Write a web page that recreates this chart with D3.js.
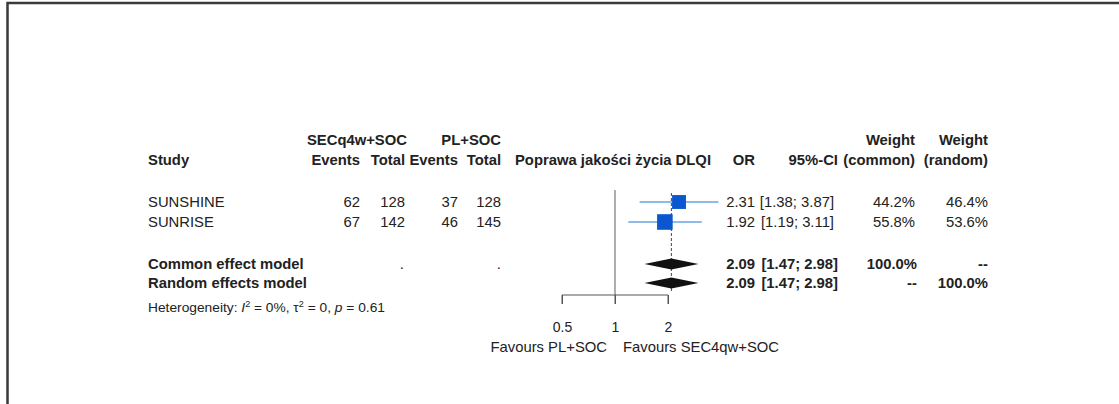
<!DOCTYPE html>
<html>
<head>
<meta charset="utf-8">
<script src="https://cdn.jsdelivr.net/npm/d3@7"></script>
<style>
  body { margin: 0; background: #fff; }
  svg text { font-family: "Liberation Sans", Arial, sans-serif; fill: #222; }
</style>
</head>
<body>
<div class="forest"></div>
<script>
// study data
const studies = ['SUNSHINE', 'SUNRISE'];
const eventsE = [62, 67];
const totalE = [128, 142];
const eventsC = [37, 46];
const totalC = [128, 145];
const orValue = [2.31, 1.92];
const ciLow = [1.38, 1.19];
const ciHigh = [3.87, 3.11];
const weightCommon = [44.2, 55.8];
const weightRandom = [46.4, 53.6];

// pooled models
const models = ['Common effect model', 'Random effects model'];
const modelOr = [2.09, 2.09];
const modelLow = [1.47, 1.47];
const modelHigh = [2.98, 2.98];
const modelWCommon = ['100.0%', '--'];
const modelWRandom = ['--', '100.0%'];

const tickValues = [0.5, 1, 2];

renderForest();

function renderForest() {
	const width = 1119;
	const height = 404;
	const svg = d3.select('.forest')
		.append('svg')
		.attr('width', width)
		.attr('height', height);

	// frame of the scanned page
	svg.append('path')
		.attr('d', 'M7.5,404 V3 H1119')
		.attr('fill', 'none')
		.attr('stroke', '#3a3a3a')
		.attr('stroke-width', 2.5);

	const x = d3.scaleLog().domain([0.5, 2]).range([562, 668]);
	const rowY = [202, 222];
	const modelY = [264, 283];
	const fs = 14;
	const stretch = 1.06; // the scan is a bit wider than tall

	function txt(xp, yp, s, anchor, bold, size) {
		return svg.append('text')
			.attr('transform', 'translate(' + xp + ',' + (yp + 5) + ') scale(' + stretch + ',1)')
			.attr('text-anchor', anchor || 'start')
			.attr('font-weight', bold ? 'bold' : 'normal')
			.attr('font-size', (size || fs) + 'px')
			.text(s);
	}

	// headers
	txt(407, 140, 'SECq4w+SOC', 'end', true);
	txt(501, 140, 'PL+SOC', 'end', true);
	txt(915, 140, 'Weight', 'end', true);
	txt(988, 140, 'Weight', 'end', true);
	txt(148, 160, 'Study', 'start', true);
	txt(360, 160, 'Events', 'end', true);
	txt(405, 160, 'Total', 'end', true);
	txt(458, 160, 'Events', 'end', true);
	txt(501, 160, 'Total', 'end', true);
	txt(613, 160, 'Poprawa jakości życia DLQI', 'middle', true);
	txt(755, 160, 'OR', 'end', true);
	txt(838, 160, '95%-CI', 'end', true);
	txt(915, 160, '(common)', 'end', true);
	txt(988, 160, '(random)', 'end', true);

	// study rows
	studies.forEach(function(s, i) {
		const y = rowY[i];
		txt(148, y, s);
		txt(360, y, eventsE[i], 'end');
		txt(405, y, totalE[i], 'end');
		txt(458, y, eventsC[i], 'end');
		txt(501, y, totalC[i], 'end');
		txt(755, y, orValue[i].toFixed(2), 'end');
		txt(834, y, '[' + ciLow[i].toFixed(2) + '; ' + ciHigh[i].toFixed(2) + ']', 'end');
		txt(915, y, weightCommon[i].toFixed(1) + '%', 'end');
		txt(988, y, weightRandom[i].toFixed(1) + '%', 'end');
	});

	// model rows
	models.forEach(function(m, i) {
		const y = modelY[i];
		txt(148, y, m, 'start', true);
		txt(755, y, modelOr[i].toFixed(2), 'end', true);
		txt(838, y, '[' + modelLow[i].toFixed(2) + '; ' + modelHigh[i].toFixed(2) + ']', 'end', true);
		txt(917, y, modelWCommon[i], 'end', true);
		txt(988, y, modelWRandom[i], 'end', true);
	});
	txt(404, modelY[0], '.', 'end').attr('fill', '#888');
	txt(501, modelY[0], '.', 'end').attr('fill', '#888');

	// heterogeneity line
	const het = svg.append('text')
		.attr('transform', 'translate(148,312) scale(' + stretch + ',1)')
		.attr('font-size', '13px');
	het.append('tspan').text('Heterogeneity: ');
	het.append('tspan').attr('font-style', 'italic').text('I');
	het.append('tspan').attr('font-size', '8.5px').attr('dy', -5).text('2');
	het.append('tspan').attr('dy', 5).text(' = 0%, τ');
	het.append('tspan').attr('font-size', '8.5px').attr('dy', -5).text('2');
	het.append('tspan').attr('dy', 5).text(' = 0, ');
	het.append('tspan').attr('font-style', 'italic').text('p');
	het.append('tspan').text(' = 0.61');

	// line of no effect
	svg.append('line')
		.attr('x1', x(1)).attr('x2', x(1))
		.attr('y1', 190).attr('y2', 304)
		.attr('stroke', '#777')
		.attr('stroke-width', 1.2);

	// dashed pooled line
	svg.append('line')
		.attr('x1', x(modelOr[0])).attr('x2', x(modelOr[0]))
		.attr('y1', 193).attr('y2', 291)
		.attr('stroke', '#444')
		.attr('stroke-width', 1)
		.attr('stroke-dasharray', '3,2');

	// confidence intervals
	svg.selectAll('.ci')
		.data(studies)
		.enter()
		.append('line')
		.attr('class', 'ci')
		.attr('x1', function(d, i) { return x(ciLow[i]); })
		.attr('x2', function(d, i) { return x(ciHigh[i]); })
		.attr('y1', function(d, i) { return rowY[i]; })
		.attr('y2', function(d, i) { return rowY[i]; })
		.attr('stroke', '#8fbbe8')
		.attr('stroke-width', 1.8);

	// squares sized by weight
	const maxW = d3.max(weightCommon);
	svg.selectAll('.sq')
		.data(studies)
		.enter()
		.append('rect')
		.attr('class', 'sq')
		.attr('x', function(d, i) { return x(orValue[i]) - 7.8 * Math.sqrt(weightCommon[i] / maxW); })
		.attr('y', function(d, i) { return rowY[i] - 7.8 * Math.sqrt(weightCommon[i] / maxW); })
		.attr('width', function(d, i) { return 15.6 * Math.sqrt(weightCommon[i] / maxW); })
		.attr('height', function(d, i) { return 15.6 * Math.sqrt(weightCommon[i] / maxW); })
		.style('fill', '#0b57d0');

	// diamonds
	svg.selectAll('.diamond')
		.data(models)
		.enter()
		.append('path')
		.attr('class', 'diamond')
		.attr('d', function(d, i) {
			const y = modelY[i];
			return 'M' + x(modelLow[i]) + ',' + y +
				'L' + x(modelOr[i]) + ',' + (y - 5.5) +
				'L' + x(modelHigh[i]) + ',' + y +
				'L' + x(modelOr[i]) + ',' + (y + 5.5) + 'Z';
		})
		.style('fill', '#111');

	// axis
	const axis = d3.axisBottom(x)
		.tickValues(tickValues)
		.tickSize(9)
		.tickPadding(18)
		.tickFormat(function(d) { return d; });
	const gAxis = svg.append('g')
		.attr('transform', 'translate(0,295)')
		.call(axis);
	gAxis.select('.domain').attr('stroke', '#555').attr('d', 'M' + x(0.5) + ',9V0H' + x(2) + 'V9');
	gAxis.selectAll('.tick line').attr('stroke', '#555');
	gAxis.selectAll('.tick text')
		.attr('font-size', fs + 'px')
		.attr('font-family', '"Liberation Sans", Arial, sans-serif')
		.attr('fill', '#222');

	txt(607, 347, 'Favours PL+SOC', 'end');
	txt(623, 347, 'Favours SEC4qw+SOC', 'start');
}
</script>
</body>
</html>
